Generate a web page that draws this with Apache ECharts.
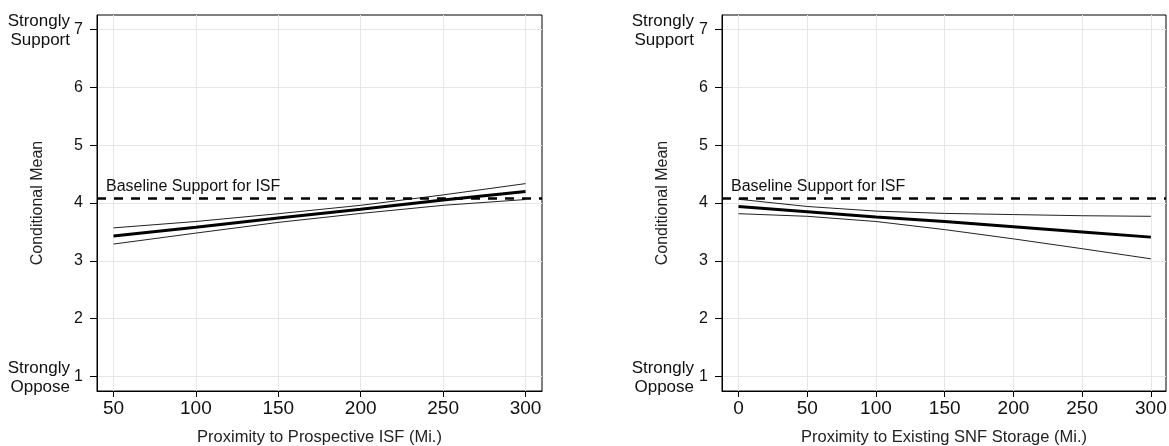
<!DOCTYPE html>
<html>
<head>
<meta charset="utf-8">
<script src="https://cdn.jsdelivr.net/npm/echarts@6/dist/echarts.min.js"></script>
<style>
  html, body { margin: 0; padding: 0; background: #fff; }
  #chart { width: 1169px; height: 446px; }
</style>
</head>
<body>
<div id="chart"></div>
<script>
// values
var yTicks = [1, 2, 3, 4, 5, 6, 7];
var baseline = 4.09;

// left panel: prospective ISF
var isfTicks = [50, 100, 150, 200, 250, 300];
var isfDist = [50, 100, 150, 200, 250, 300];
var isfMean = [3.43, 3.58, 3.74, 3.89, 4.05, 4.20];
var isfUpper = [3.57, 3.68, 3.815, 3.96, 4.14, 4.335];
var isfLower = [3.29, 3.48, 3.665, 3.82, 3.96, 4.06];

// right panel: existing SNF storage
var snfTicks = [0, 50, 100, 150, 200, 250, 300];
var snfDist = [0, 50, 100, 150, 200, 250, 300];
var snfMean = [3.94, 3.85, 3.76, 3.68, 3.59, 3.50, 3.41];
var snfUpper = [4.065, 3.94, 3.86, 3.82, 3.80, 3.78, 3.77];
var snfLower = [3.815, 3.77, 3.68, 3.54, 3.38, 3.21, 3.035];

var font = "'Liberation Sans', Arial, sans-serif";

function pairs(xs, ys) {
    return xs.map(function (x, i) { return [x, ys[i]]; });
}

function xAxis(grid, min, max, ticks, title) {
    return {
        type: 'value', gridIndex: grid, min: min, max: max,
        name: title, nameLocation: 'middle', nameGap: 38,
        nameTextStyle: { fontFamily: font, fontSize: 16.5, color: '#222' },
        axisLine: { show: true, onZero: false, lineStyle: { color: '#000', width: 1 } },
        axisTick: { show: true, length: 6, customValues: ticks, lineStyle: { color: '#000' } },
        axisLabel: { customValues: ticks, margin: 8, fontFamily: font, fontSize: 19, color: '#111' },
        splitLine: { show: true, lineStyle: { color: '#e6e6e6', width: 1 } }
    };
}

function yAxis(grid) {
    return {
        type: 'value', gridIndex: grid, min: 0.75, max: 7.25,
        name: 'Conditional Mean', nameLocation: 'middle', nameGap: 51, nameRotate: 90,
        nameTextStyle: { fontFamily: font, fontSize: 16, color: '#222' },
        axisLine: { show: true, onZero: false, lineStyle: { color: '#000', width: 1 } },
        axisTick: { show: true, length: 7, customValues: yTicks, lineStyle: { color: '#000' } },
        axisLabel: { customValues: yTicks, margin: 14, fontFamily: font, fontSize: 16, color: '#111' },
        splitLine: { show: true, lineStyle: { color: '#e6e6e6', width: 1 } }
    };
}

// second y axis only carries the "Strongly ..." end labels
function endLabels(grid, margin) {
    return {
        type: 'value', gridIndex: grid, min: 0.75, max: 7.25, position: 'left',
        axisLine: { show: false, onZero: false }, axisTick: { show: false }, splitLine: { show: false },
        axisLabel: {
            customValues: [1, 7], margin: margin,
            fontFamily: font, fontSize: 17, color: '#111',
            formatter: function (v) {
                return v === 7 ? '{a|Strongly}\n{b|Support}' : '{a|Strongly}\n{b|Oppose}';
            },
            rich: {
                a: { fontFamily: font, fontSize: 17, lineHeight: 21, color: '#111', padding: [4, 0, 0, 0] },
                b: { fontFamily: font, fontSize: 17, lineHeight: 21, color: '#111' }
            }
        }
    };
}

function band(name, x, y, xi, yi) {
    return {
        name: name, type: 'line', xAxisIndex: xi, yAxisIndex: yi,
        data: pairs(x, y), symbol: 'none', silent: true,
        lineStyle: { color: '#222', width: 1 }
    };
}

function meanLine(x, y, xi, yi) {
    return {
        name: 'mean', type: 'line', xAxisIndex: xi, yAxisIndex: yi,
        data: pairs(x, y), symbol: 'none', silent: true, z: 3,
        lineStyle: { color: '#000', width: 3 },
        markLine: {
            symbol: 'none', silent: true,
            lineStyle: { color: '#000', width: 2.5, type: [9, 8] },
            label: {
                show: true, position: 'insideStartTop', distance: [9, 3],
                formatter: 'Baseline Support for ISF',
                fontFamily: font, fontSize: 16, color: '#111'
            },
            data: [{ yAxis: baseline }]
        }
    };
}

var chart = echarts.init(document.getElementById('chart'));
chart.setOption({
    animation: false,
    backgroundColor: '#fff',
    grid: [
        { left: 97, top: 15, width: 445, height: 376, outerBoundsMode: 'none', containLabel: false,
          show: true, borderColor: '#000', borderWidth: 1 },
        { left: 722, top: 15, width: 444, height: 376, outerBoundsMode: 'none', containLabel: false,
          show: true, borderColor: '#000', borderWidth: 1 }
    ],
    xAxis: [
        xAxis(0, 40, 310, isfTicks, 'Proximity to Prospective ISF (Mi.)'),
        xAxis(1, -12, 311, snfTicks, 'Proximity to Existing SNF Storage (Mi.)')
    ],
    yAxis: [yAxis(0), endLabels(0, 27), yAxis(1), endLabels(1, 28)],
    series: [
        band('upper', isfDist, isfUpper, 0, 0),
        band('lower', isfDist, isfLower, 0, 0),
        meanLine(isfDist, isfMean, 0, 0),
        band('upper', snfDist, snfUpper, 1, 2),
        band('lower', snfDist, snfLower, 1, 2),
        meanLine(snfDist, snfMean, 1, 2)
    ]
});
</script>
</body>
</html>
